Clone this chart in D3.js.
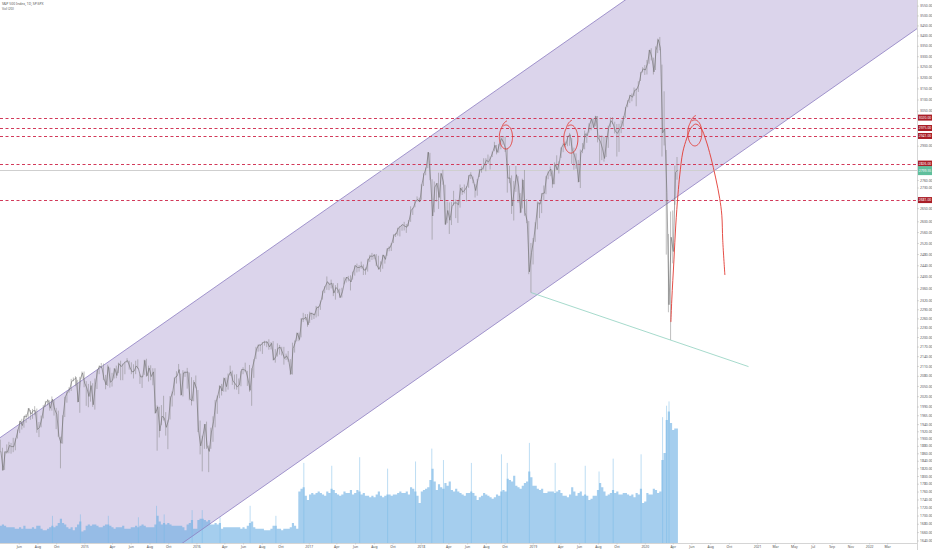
<!DOCTYPE html>
<html><head><meta charset="utf-8">
<script src="https://cdn.jsdelivr.net/npm/d3@7"></script>
<style>html,body{margin:0;padding:0;background:#fff;}svg{display:block;font-family:"Noto Sans",Roboto,sans-serif;}</style>
</head><body><svg id="c" width="932" height="550"></svg>
<script>
// ---------- DATA ----------
const title = "S&P 500 Index, 1D, SP:SPX";
const volTitle = "Vol (20)";
const firstWeek = "2014-03-31"; // Monday of first weekly bar
// weekly [low, high]
const bars2014 = [[1863,1897],[1814,1875],[1816,1865],[1859,1884],[1860,1891],[1859,1888],[1863,1902],[1868,1901],[1900,1925],[1915,1949],
[1925,1955],[1930,1963],[1944,1968],[1955,1985],[1952,1980],[1955,1983],[1965,1991],[1916,1984],[1904,1946],[1931,1964],
[1956,1994],[1989,2006],[1993,2011],[1978,2008],[1978,2019],[1964,2009],[1926,1986],[1905,1978],[1820,1905],[1886,1965],
[1960,2018],[2001,2034],[2030,2046],[2035,2071],[2064,2075],[2049,2079],[2002,2068],[1972,2077],[2070,2093],[2046,2093]];
const bars2015 = [[1992,2064],[1988,2056],[2004,2064],[1989,2058],[1981,2072],[2041,2097],[2085,2111],[2103,2119],[2067,2117],[2040,2083],
[2050,2114],[2045,2105],[2048,2089],[2072,2103],[2073,2111],[2088,2120],[2067,2126],[2067,2117],[2085,2123],[2120,2134],
[2099,2126],[2085,2121],[2072,2115],[2085,2126],[2101,2130],[2056,2084],[2044,2081],[2083,2129],[2077,2132],[2063,2111],
[2067,2112],[2052,2103],[1970,2103],[1867,1993],[1903,1989],[1937,1994],[1950,2021],[1908,1974],[1871,1952],[1953,2020],
[1990,2034],[2022,2075],[2057,2094],[2089,2116],[2022,2087],[2019,2097],[2077,2095],[2042,2104],[2008,2090],[1993,2076],
[2005,2067],[2043,2081]];
const bars2016 = [[1918,2038],[1857,1950],[1812,1908],[1872,1940],[1872,1947],[1810,1881],[1872,1930],[1891,1962],[1931,2009],[1969,2022],
[2014,2052],[2022,2056],[2033,2075],[2033,2075],[2039,2087],[2080,2111],[2053,2096],[2040,2084],[2039,2085],[2026,2072],
[2049,2094],[2085,2106],[2091,2120],[2050,2095],[2033,2113],[1992,2103],[2074,2131],[2131,2169],[2154,2176],[2155,2177],
[2147,2184],[2173,2188],[2168,2187],[2160,2193],[2161,2184],[2127,2187],[2120,2162],[2139,2180],[2145,2175],[2142,2169],
[2114,2169],[2128,2148],[2123,2156],[2083,2131],[2084,2182],[2151,2189],[2186,2214],[2187,2214],[2199,2260],[2248,2278],
[2254,2274],[2233,2274]];
const bars2017 = [[2245,2282],[2255,2279],[2258,2276],[2263,2301],[2267,2300],[2288,2319],[2322,2352],[2344,2368],[2355,2401],[2354,2379],
[2360,2390],[2334,2378],[2322,2371],[2344,2378],[2328,2359],[2329,2362],[2374,2398],[2380,2399],[2384,2403],[2353,2405],
[2390,2418],[2404,2440],[2415,2446],[2418,2441],[2428,2453],[2406,2443],[2407,2432],[2418,2463],[2452,2477],[2459,2484],
[2461,2480],[2437,2480],[2425,2474],[2417,2454],[2428,2477],[2446,2475],[2474,2500],[2490,2508],[2491,2520],[2520,2552],
[2542,2557],[2547,2576],[2544,2582],[2565,2588],[2566,2598],[2557,2590],[2582,2605],[2598,2657],[2624,2652],[2653,2680],
[2676,2695],[2673,2690]];
const bars2018 = [[2682,2743],[2736,2787],[2779,2811],[2808,2873],[2759,2870],[2532,2763],[2634,2754],[2675,2747],[2647,2789],[2682,2787],
[2741,2801],[2588,2741],[2593,2675],[2553,2672],[2586,2674],[2660,2717],[2612,2683],[2594,2679],[2652,2742],[2701,2732],
[2707,2742],[2676,2736],[2729,2779],[2764,2791],[2747,2774],[2691,2743],[2698,2764],[2772,2804],[2789,2815],[2802,2848],
[2795,2848],[2825,2863],[2802,2855],[2853,2876],[2877,2916],[2864,2903],[2871,2908],[2885,2941],[2904,2940],[2874,2940],
[2710,2891],[2747,2817],[2628,2778],[2603,2756],[2713,2816],[2671,2775],[2631,2708],[2649,2765],[2621,2800],[2593,2685],
[2409,2601],[2346,2520],[2443,2538]];
const bars2019 = [[2524,2597],[2570,2675],[2612,2672],[2631,2708],[2681,2738],[2704,2775],[2763,2794],[2775,2814],[2729,2798],[2743,2831],
[2800,2860],[2786,2836],[2849,2893],[2873,2910],[2893,2917],[2898,2940],[2900,2954],[2825,2932],[2801,2892],[2805,2868],
[2750,2841],[2728,2884],[2869,2911],[2885,2964],[2912,2955],[2955,2995],[2965,3014],[2975,3017],[2982,3028],[2914,3027],
[2822,2944],[2840,2943],[2834,2939],[2853,2940],[2891,2985],[2979,3021],[2991,3022],[2952,3002],[2855,2992],[2874,2993],
[2953,3008],[2981,3027],[3019,3066],[3066,3097],[3084,3121],[3092,3127],[3116,3154],[3070,3150],[3134,3183],[3184,3226],
[3223,3248],[3212,3258]];
const bars2020 = [[3214,3282],[3264,3330],[3280,3338],[3214,3293],[3235,3347],[3315,3385],[3328,3393],[2855,3260],[2901,3137],[2478,2882],
[2280,2553],[2191,2637],[2447,2641],[2663,2818],[2761,2853]];
// weekly closes
const close2014 = [1865,1815,1864,1863,1881,1878,1878,1900,1924,1949,1936,1963,1961,1985,1968,1978,1978,1925,1931,1955,
1988,2003,2008,1985,2011,1982,1968,1906,1887,1965,2018,2032,2040,2064,2068,2075,2003,2071,2089,2058];
const close2015 = [2044,2019,2051,1995,2055,2097,2110,2105,2071,2053,2108,2061,2067,2102,2081,2117,2108,2116,2123,2126,
2107,2092,2094,2110,2102,2077,2077,2127,2080,2104,2078,2092,1971,1989,1921,1962,1958,1931,1951,2015,
2033,2075,2079,2099,2023,2089,2090,2092,2012,2006,2061,2044];
const close2016 = [1922,1880,1907,1940,1880,1865,1918,1948,2000,2022,2050,2035,2073,2048,2081,2092,2065,2057,2047,2053,
2099,2099,2096,2071,2037,2103,2130,2162,2175,2174,2183,2184,2184,2169,2180,2128,2139,2165,2168,2153,
2133,2141,2126,2085,2164,2182,2213,2192,2259,2258,2264,2239];
const close2017 = [2277,2275,2271,2295,2297,2316,2351,2367,2383,2373,2378,2344,2363,2355,2329,2349,2384,2399,2391,2382,
2416,2439,2432,2433,2438,2423,2425,2459,2473,2472,2477,2441,2426,2443,2477,2461,2500,2502,2519,2549,
2553,2575,2581,2588,2582,2578,2602,2642,2651,2675,2683,2674];
const close2018 = [2743,2786,2810,2873,2762,2620,2732,2747,2691,2786,2752,2588,2641,2604,2656,2670,2670,2663,2728,2712,
2721,2735,2779,2780,2755,2718,2760,2801,2802,2819,2840,2833,2850,2875,2902,2872,2905,2930,2914,2885,
2767,2768,2658,2723,2781,2736,2633,2760,2633,2600,2417,2486,2532];
const close2019 = [2596,2671,2665,2707,2708,2775,2793,2804,2743,2822,2801,2834,2893,2907,2905,2940,2946,2881,2860,2826,
2752,2873,2887,2950,2942,2990,3014,2977,3026,2932,2919,2889,2847,2926,2979,3007,2992,2962,2952,2970,
2986,3023,3067,3093,3120,3110,3141,3146,3169,3221,3240,3235];
const close2020 = [3265,3330,3295,3226,3328,3380,3338,2954,2972,2711,2305,2541,2489,2790,2799.55];
// weekly average volume (relative units)
const vol2014 = [1.2,1.3,1.2,1.1,1.1,1.1,1.1,1.0,1.0,1.1,1.0,1.2,1.0,1.0,1.0,1.1,1.0,1.2,1.2,1.0,0.9,0.9,1.0,1.1,1.2,1.1,1.2,1.4,1.7,1.4,1.3,1.1,1.0,1.1,0.9,1.1,1.3,1.5,0.8,0.9];
const vol2015 = [1.2,1.3,1.2,1.3,1.3,1.2,1.1,1.1,1.2,1.3,1.3,1.2,1.1,1.0,1.1,1.1,1.1,1.2,1.0,1.0,1.0,1.1,1.1,1.2,1.1,1.2,1.3,1.2,1.1,1.1,1.1,1.1,1.3,1.9,1.5,1.3,1.4,1.3,1.4,1.3,1.2,1.2,1.2,1.2,1.2,1.1,0.9,1.3,1.4,1.6,1.0,1.0];
const vol2016 = [1.6,1.7,1.7,1.6,1.5,1.6,1.3,1.3,1.4,1.3,1.4,1.0,1.1,1.1,1.1,1.1,1.1,1.1,1.1,1.1,1.0,1.1,1.0,1.2,1.4,1.5,1.1,1.0,1.0,1.0,1.0,0.9,0.9,0.9,1.0,1.2,1.2,1.0,1.0,0.9,1.0,1.0,1.0,1.1,1.4,1.2,1.0,3.6,3.8,3.9,3.3,3.0];
const vol2017 = [3.4,3.5,3.4,3.5,3.6,3.5,3.4,3.3,3.6,3.5,3.8,3.7,3.5,3.4,3.3,3.4,3.6,3.5,3.5,3.7,3.4,3.5,3.7,3.6,3.4,3.5,3.3,3.3,3.2,3.3,3.2,3.4,3.6,3.3,3.2,3.3,3.4,3.4,3.3,3.4,3.4,3.5,3.6,3.5,3.5,3.6,3.4,3.9,3.8,3.6,3.3,2.8];
const vol2018 = [3.6,3.7,3.8,3.9,4.4,5.2,4.3,3.7,4.1,3.9,3.8,4.2,4.0,4.3,3.7,3.6,3.8,3.6,3.5,3.4,3.3,3.5,3.5,3.6,3.5,3.3,3.0,3.2,3.3,3.5,3.4,3.3,3.2,3.1,3.2,3.4,3.3,3.6,3.7,3.6,4.5,4.4,4.3,4.7,4.0,3.9,3.8,4.0,4.2,4.3,5.0,4.6,4.0];
const vol2019 = [4.0,3.8,3.7,3.8,3.5,3.5,3.6,3.6,3.6,3.5,3.6,3.7,3.5,3.3,3.3,3.2,3.4,3.9,3.6,3.3,3.5,3.6,3.3,3.4,3.3,3.0,3.1,3.3,3.3,3.7,4.2,3.9,3.6,3.3,3.4,3.5,3.7,3.5,3.6,3.4,3.4,3.5,3.5,3.4,3.3,3.4,3.2,3.5,3.4,3.8,2.8,2.9];
const vol2020 = [3.5,3.4,3.4,3.8,3.7,3.5,3.6,5.8,6.3,8.6,9.2,8.4,7.9,8.0,8.0];
const volumeSpikes = [["2014-09-19",1.9],["2014-12-19",2.0],["2015-03-20",1.9],["2015-06-26",1.8],["2015-08-24",2.6],["2015-09-18",2.0],
["2015-12-18",2.3],["2016-01-20",2.3],["2016-03-18",1.8],["2016-06-24",2.6],["2016-09-16",1.9],["2016-12-16",5.6],["2017-03-17",5.4],
["2017-06-16",6.0],["2017-09-15",5.2],["2017-12-15",5.7],["2018-02-06",6.6],["2018-03-16",5.8],["2018-06-15",5.6],["2018-09-21",6.2],
["2018-10-10",5.6],["2018-12-21",7.0],["2019-03-15",5.6],["2019-06-21",5.4],["2019-08-05",5.0],["2019-09-20",5.9],["2019-12-20",6.2],
["2020-02-28",8.8],["2020-03-12",9.6],["2020-03-20",9.9]];
const lastClose = 2799.55;
const levels = [3020, 2975, 2941, 2826, 2681];
const channelUpper = [["2014-04-04",1904],["2019-08-11",3492]];
const channelLower = [["2016-02-01",1673],["2022-06-09",3437]];
const supportLine = [["2018-12-26",2346],["2020-03-23",2191]];
const supportEnd = "2020-12-04";
const projection = [["2020-03-26",2248],["2020-03-29",2321],["2020-04-05",2459],["2020-04-11",2586],["2020-04-18",2701],["2020-04-24",2780],
["2020-05-04",2874],["2020-05-17",2932],["2020-05-30",2975],["2020-06-15",2992],["2020-07-02",2975],["2020-07-18",2924],["2020-08-03",2853],
["2020-08-19",2768],["2020-09-01",2688],["2020-09-08",2623],["2020-09-11",2530],["2020-09-18",2406]];
// circles: [leftDate, rightDate, topPrice, bottomPrice]
const circles = [["2018-09-14","2018-10-27",2988,2886],["2019-04-12","2019-05-28",2988,2869],["2020-05-20","2020-07-05",3010,2899]];
const priceTicks = [3550,3500,3450,3400,3350,3300,3250,3200,3150,3100,3050,2900,2760,2730,2650,2600,2560,2520,2480,2440,2400,2360,2320,2290,2260,2230,2200,2170,2140,2110,2080,2050,2020,1990,1965,1940,1920,1900,1880,1860,1840,1820,1800,1780,1760,1740,1720,1700,1680,1660,1640];
const timeTicks = [["2014-06-01","Jun"],["2014-08-01","Aug"],["2014-10-01","Oct"],
["2015-01-01","2015"],["2015-04-01","Apr"],["2015-06-01","Jun"],["2015-08-01","Aug"],["2015-10-01","Oct"],
["2016-01-01","2016"],["2016-04-01","Apr"],["2016-06-01","Jun"],["2016-08-01","Aug"],["2016-10-01","Oct"],
["2017-01-01","2017"],["2017-04-01","Apr"],["2017-06-01","Jun"],["2017-08-01","Aug"],["2017-10-01","Oct"],
["2018-01-01","2018"],["2018-04-01","Apr"],["2018-06-01","Jun"],["2018-08-01","Aug"],["2018-10-01","Oct"],
["2019-01-01","2019"],["2019-04-01","Apr"],["2019-06-01","Jun"],["2019-08-01","Aug"],["2019-10-01","Oct"],
["2020-01-01","2020"],["2020-04-01","Apr"],["2020-06-01","Jun"],["2020-08-01","Aug"],["2020-10-01","Oct"],
["2021-01-01","2021"],["2021-03-01","Mar"],["2021-05-01","May"],["2021-07-01","Jul"],["2021-09-01","Sep"],["2021-11-01","Nov"],
["2022-01-01","2022"],["2022-03-01","Mar"]];

// ---------- CHART ----------
const svg = d3.select("#c");
const plotR = 917, plotB = 543;
const parse = d3.utcParse("%Y-%m-%d");
const x = d3.scaleUtc().domain([parse("2014-04-01"), parse("2022-06-06")]).range([0, plotR]);
const y = d3.scaleLog().domain([1634, 3579]).range([plotB, 0]);
const vy = d3.scaleLinear().domain([0, 10]).range([plotB, plotB - 143]);
const snap = v => Math.round(v) + 0.5;

const bars = [].concat(bars2014, bars2015, bars2016, bars2017, bars2018, bars2019, bars2020);
const closes = [].concat(close2014, close2015, close2016, close2017, close2018, close2019, close2020);
const vols = [].concat(vol2014, vol2015, vol2016, vol2017, vol2018, vol2019, vol2020);
const w0 = parse(firstWeek);
const weekDate = i => d3.utcDay.offset(w0, i * 7);

svg.append("defs").append("clipPath").attr("id", "plot")
  .append("rect").attr("x", 0).attr("y", 0).attr("width", plotR).attr("height", plotB);
const g = svg.append("g").attr("clip-path", "url(#plot)");

function lineAt(p, xa) {
  const x1 = x(parse(p[0][0])), y1 = y(p[0][1]), x2 = x(parse(p[1][0])), y2 = y(p[1][1]);
  return y1 + (y2 - y1) * (xa - x1) / (x2 - x1);
}
const xa = -5, xb = plotR + 5;
g.append("path")
  .attr("d", d3.line()([[xa, lineAt(channelUpper, xa)], [xb, lineAt(channelUpper, xb)], [xb, lineAt(channelLower, xb)], [xa, lineAt(channelLower, xa)]]) + "Z")
  .attr("fill", "#dbd4eb");

// volume
const volPts = vols.map((v, i) => [weekDate(i), v]);
volPts.push([d3.utcDay.offset(weekDate(vols.length - 1), 5), vols[vols.length - 1]]);
g.append("path")
  .attr("d", d3.area().x(d => x(d[0])).y0(plotB).y1(d => vy(d[1])).curve(d3.curveStepAfter)(volPts))
  .attr("fill", "rgba(100,170,225,0.58)");
g.append("g").selectAll("line").data(volumeSpikes).join("line")
  .attr("x1", d => x(parse(d[0]))).attr("x2", d => x(parse(d[0])))
  .attr("y1", plotB).attr("y2", d => vy(d[1]))
  .attr("stroke", "rgba(120,185,230,0.7)").attr("stroke-width", 0.7);

// channel lines
[channelUpper, channelLower].forEach(p => {
  g.append("line").attr("x1", xa).attr("y1", lineAt(p, xa)).attr("x2", xb).attr("y2", lineAt(p, xb))
    .attr("stroke", "#8d7dc2").attr("stroke-width", 0.8);
});

// last price line
g.append("line").attr("x1", 0).attr("x2", plotR).attr("y1", snap(y(lastClose))).attr("y2", snap(y(lastClose)))
  .attr("stroke", "#cfcfcf").attr("stroke-width", 1);

// horizontal dashed levels
g.append("g").selectAll("line").data(levels).join("line")
  .attr("x1", 0).attr("x2", plotR).attr("y1", d => snap(y(d))).attr("y2", d => snap(y(d)))
  .attr("stroke", "#d23a5a").attr("stroke-width", 1).attr("stroke-dasharray", "3,2.5");

// support trend line
{
  const xs = x(parse(supportLine[0][0])), xe = x(parse(supportEnd));
  g.append("line").attr("x1", xs).attr("y1", lineAt(supportLine, xs)).attr("x2", xe).attr("y2", lineAt(supportLine, xe))
    .attr("stroke", "#8fd1bf").attr("stroke-width", 0.8);
}

// price: weekly high-low bars + close line
g.append("g").selectAll("line").data(bars).join("line")
  .attr("x1", (d, i) => x(d3.utcDay.offset(weekDate(i), 2)))
  .attr("x2", (d, i) => x(d3.utcDay.offset(weekDate(i), 2)))
  .attr("y1", d => y(d[0])).attr("y2", d => y(d[1]))
  .attr("stroke", "#8a8a8a").attr("stroke-width", 0.55);
g.append("path")
  .attr("d", d3.line().x((d, i) => x(d3.utcDay.offset(weekDate(i), 4))).y(d => y(d))(closes))
  .attr("fill", "none").attr("stroke", "#6b6b6b").attr("stroke-width", 0.6);

// red freehand drawings
g.append("path")
  .attr("d", d3.line().x(d => x(parse(d[0]))).y(d => y(d[1])).curve(d3.curveCatmullRom)(projection))
  .attr("fill", "none").attr("stroke", "#e23a32").attr("stroke-width", 0.9);
circles.forEach(c => {
  const x0 = x(parse(c[0])), x1 = x(parse(c[1])), y0 = y(c[2]), y1 = y(c[3]);
  const cx = (x0 + x1) / 2, cy = (y0 + y1) / 2, rx = (x1 - x0) / 2, ry = (y1 - y0) / 2;
  const pts = d3.range(0, 1.0001, 1 / 90).map(t => {
    const a = -2.0 + t * (2 * Math.PI + 0.55);
    const s = 1 + 0.35 * Math.max(0, t - 0.88) / 0.12;
    return [cx + rx * s * Math.cos(a), cy + ry * s * Math.sin(a)];
  });
  g.append("path").attr("d", d3.line().curve(d3.curveBasis)(pts))
    .attr("fill", "none").attr("stroke", "#e23a32").attr("stroke-width", 0.9);
});

// ---------- AXES ----------
const fs = 3.4;
const ay = svg.append("g").attr("transform", `translate(${plotR},0)`)
  .call(d3.axisRight(y).tickValues(priceTicks).tickFormat(d3.format(".2f")).tickSize(2).tickPadding(1));
ay.select(".domain").attr("stroke", "#b8b8b8").attr("stroke-width", 0.6).attr("d", `M0.5,0V550`);
ay.selectAll(".tick line").attr("stroke", "#b8b8b8").attr("stroke-width", 0.5);
ay.selectAll("text").attr("font-size", fs).attr("fill", "#555").attr("font-family", "Noto Sans, sans-serif");

const ax = svg.append("g").attr("transform", `translate(0,${plotB})`)
  .call(d3.axisBottom(x).tickValues(timeTicks.map(d => parse(d[0]))).tickFormat((d, i) => timeTicks[i][1]).tickSize(1.5).tickPadding(1.5));
ax.select(".domain").attr("stroke", "#b8b8b8").attr("stroke-width", 0.6).attr("d", `M0,0.5H${plotR}`);
ax.selectAll(".tick line").attr("stroke", "#b8b8b8").attr("stroke-width", 0.5);
ax.selectAll("text").attr("font-size", fs).attr("fill", "#555").attr("font-family", "Noto Sans, sans-serif");

// level labels
const lab = svg.append("g");
levels.forEach(v => {
  lab.append("rect").attr("x", plotR + 1).attr("y", y(v) - 3).attr("width", 14).attr("height", 6).attr("fill", "#a91d27");
  lab.append("text").attr("x", plotR + 8).attr("y", y(v) + 1.2).attr("text-anchor", "middle")
    .attr("font-size", fs).attr("fill", "#fff").text(d3.format(".2f")(v));
});
lab.append("rect").attr("x", plotR + 1).attr("y", y(lastClose) - 4).attr("width", 14).attr("height", 9).attr("fill", "#5fbf9c");
lab.append("text").attr("x", plotR + 8).attr("y", y(lastClose) + 1.8).attr("text-anchor", "middle")
  .attr("font-size", fs).attr("fill", "#fff").text(d3.format(".2f")(lastClose));

// legend
svg.append("text").attr("x", 2).attr("y", 5).attr("font-size", fs).attr("fill", "#555").text(title);
svg.append("text").attr("x", 2).attr("y", 9.5).attr("font-size", fs).attr("fill", "#555").text(volTitle);
</script></body></html>
